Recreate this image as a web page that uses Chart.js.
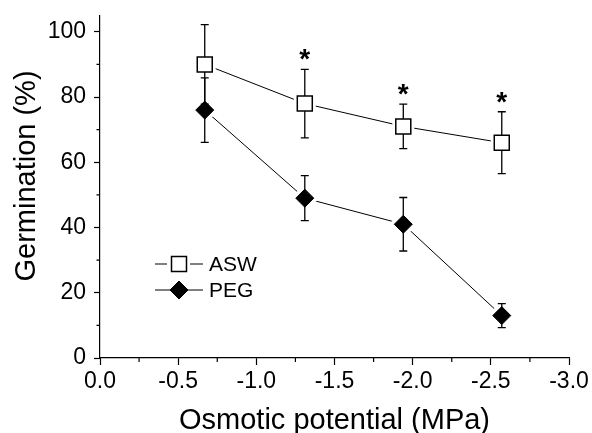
<!DOCTYPE html>
<html><head><meta charset="utf-8">
<script src="https://cdn.jsdelivr.net/npm/chart.js@4.4.0/dist/chart.umd.min.js"></script>
<style>html,body{margin:0;padding:0;background:#fff;} #wrap{width:592px;height:433px;}</style>
</head><body><div id="wrap"><canvas id="c" width="592" height="433"></canvas></div>
<script>
const potentials = [-0.67, -1.31, -1.94, -2.57];
const aswMean = [90, 78, 71, 66];
const aswErr = [12.2, 10.5, 6.8, 9.5];
const pegMean = [76, 49, 41, 13];
const pegErr = [9.9, 6.9, 8.2, 3.7];
const aswSignificant = [false, true, true, true];
const xTicks = [0, -0.5, -1, -1.5, -2, -2.5, -3];
const yTicks = [0, 20, 40, 60, 80, 100];
const xMinorTicks = [-0.25, -0.75, -1.25, -1.75, -2.25, -2.75];
const yMinorTicks = [10, 30, 50, 70, 90];
const seriesNames = ['ASW', 'PEG'];
const xTitle = 'Osmotic potential (MPa)';
const yTitle = 'Germination (%)';

const FONT = "'Liberation Sans', Arial, sans-serif";
function pts(arr) { return potentials.map((x, i) => ({ x: x, y: arr[i] })); }

const series = [
  { name: seriesNames[0], mean: aswMean, err: aswErr, style: 'rect', r: 10.6, halo: 15.5, fill: '#ffffff', bw: 1.5, gapL: 12, gapR: 11 },
  { name: seriesNames[1], mean: pegMean, err: pegErr, style: 'rectRot', r: 9, halo: 14.5, fill: '#000000', bw: 1, gapL: 9, gapR: 9 }
];

const datasets = [];
series.forEach(s => {
  datasets.push({ kind: 'line', data: pts(s.mean), showLine: true, borderColor: '#000', borderWidth: 1, pointRadius: 0, order: 30 });
  datasets.push({ kind: 'halo', data: pts(s.mean), showLine: false, pointStyle: s.style, pointRadius: s.halo, pointBackgroundColor: '#fff', pointBorderColor: '#fff', pointBorderWidth: 0, order: 20 });
  datasets.push({ kind: 'marker', label: s.name, data: pts(s.mean), showLine: false, pointStyle: s.style, pointRadius: s.r, pointBackgroundColor: s.fill, pointBorderColor: '#000', pointBorderWidth: s.bw, order: 10 });
});

function drawMarker(ctx, style, x, y, r, fill, bw) {
  ctx.save();
  ctx.beginPath();
  if (style === 'rect') {
    const h = r * Math.SQRT1_2;
    ctx.rect(x - h, y - h, 2 * h, 2 * h);
  } else {
    ctx.moveTo(x - r, y); ctx.lineTo(x, y - r); ctx.lineTo(x + r, y); ctx.lineTo(x, y + r); ctx.closePath();
  }
  ctx.fillStyle = fill; ctx.fill();
  if (bw > 0) { ctx.lineWidth = bw; ctx.strokeStyle = '#000'; ctx.stroke(); }
  ctx.restore();
}

const decor = {
  id: 'decor',
  beforeDatasetsDraw(chart) { chart.$errDone = false; },
  beforeDatasetDraw(chart, args) {
    const ds = chart.data.datasets[args.index];
    if (ds.kind !== 'marker' || chart.$errDone) return;
    chart.$errDone = true;
    const ctx = chart.ctx, xs = chart.scales.x, ys = chart.scales.y;
    ctx.save();
    ctx.strokeStyle = '#000'; ctx.lineWidth = 1.3;
    series.forEach(s => {
      potentials.forEach((p, i) => {
        const x = xs.getPixelForValue(p);
        const yt = ys.getPixelForValue(s.mean[i] + s.err[i]);
        const yb = ys.getPixelForValue(s.mean[i] - s.err[i]);
        ctx.beginPath();
        ctx.moveTo(x, yt); ctx.lineTo(x, yb);
        ctx.moveTo(x - 4, yt); ctx.lineTo(x + 4, yt);
        ctx.moveTo(x - 4, yb); ctx.lineTo(x + 4, yb);
        ctx.stroke();
      });
    });
    ctx.restore();
  },
  afterDatasetsDraw(chart) {
    const ctx = chart.ctx, xs = chart.scales.x, ys = chart.scales.y;
    ctx.save();
    // significance stars above ASW error bars
    ctx.fillStyle = '#000';
    ctx.font = 'bold 28px ' + FONT;
    ctx.textAlign = 'center'; ctx.textBaseline = 'alphabetic';
    potentials.forEach((p, i) => {
      if (!aswSignificant[i]) return;
      const x = xs.getPixelForValue(p);
      const yt = ys.getPixelForValue(aswMean[i] + aswErr[i]);
      ctx.fillText('*', x, yt - 1);
    });
    // legend
    const lx0 = 155, lx1 = 203, mx = 179, rows = [264, 290];
    series.forEach((s, k) => {
      const y = rows[k];
      ctx.strokeStyle = '#000'; ctx.lineWidth = 1;
      ctx.beginPath();
      ctx.moveTo(lx0, y); ctx.lineTo(mx - s.gapL, y);
      ctx.moveTo(mx + s.gapR, y); ctx.lineTo(lx1, y);
      ctx.stroke();
      drawMarker(ctx, s.style, mx, y, s.r, s.fill, s.bw);
      ctx.fillStyle = '#000';
      ctx.font = '21px ' + FONT;
      ctx.textAlign = 'left'; ctx.textBaseline = 'middle';
      ctx.fillText(s.name, 209, y + 1);
    });
    ctx.restore();
  },
  afterDraw(chart) {
    const ctx = chart.ctx, xs = chart.scales.x, ys = chart.scales.y, a = chart.chartArea;
    ctx.save();
    ctx.strokeStyle = '#000'; ctx.lineWidth = 1.2;
    ctx.beginPath();
    xMinorTicks.forEach(v => { const x = xs.getPixelForValue(v); ctx.moveTo(x, a.bottom); ctx.lineTo(x, a.bottom + 4); });
    yMinorTicks.forEach(v => { const y = ys.getPixelForValue(v); ctx.moveTo(a.left, y); ctx.lineTo(a.left - 3.5, y); });
    ctx.stroke();
    ctx.fillStyle = '#000';
    ctx.font = '29px ' + FONT;
    ctx.textAlign = 'center'; ctx.textBaseline = 'alphabetic';
    ctx.fillText(xTitle, (a.left + a.right) / 2, 429);
    ctx.translate(35, 176);
    ctx.rotate(-Math.PI / 2);
    ctx.fillText(yTitle, 0, 0);
    ctx.restore();
  }
};

new Chart(document.getElementById('c'), {
  type: 'scatter',
  data: { datasets: datasets },
  plugins: [decor],
  options: {
    responsive: false,
    animation: false,
    devicePixelRatio: 1,
    layout: { padding: { left: 0, right: 23, top: 13, bottom: 0 } },
    plugins: { legend: { display: false }, tooltip: { enabled: false } },
    scales: {
      x: {
        type: 'linear', min: -3, max: 0, reverse: true,
        afterFit(scale) { scale.height = 75; scale.paddingLeft = 0; scale.paddingRight = 0; },
        afterBuildTicks(scale) { scale.ticks = xTicks.map(v => ({ value: v })); },
        ticks: { color: '#000', font: { family: FONT, size: 23 }, padding: 3, maxRotation: 0, autoSkip: false,
          callback: v => Number(v).toFixed(1) },
        grid: { display: true, drawOnChartArea: false, drawTicks: true, tickLength: 7, tickColor: '#000', tickWidth: 1.2 },
        border: { display: true, color: '#000', width: 1.2 }
      },
      y: {
        type: 'linear', min: 0, max: 105,
        afterFit(scale) { scale.width = 100; scale.paddingTop = 0; scale.paddingBottom = 0; },
        afterBuildTicks(scale) { scale.ticks = yTicks.map(v => ({ value: v })); },
        ticks: { color: '#000', font: { family: FONT, size: 23 }, padding: 8, autoSkip: false,
          callback: v => String(v) },
        grid: { display: true, drawOnChartArea: false, drawTicks: true, tickLength: 6, tickColor: '#000', tickWidth: 1.2 },
        border: { display: true, color: '#000', width: 1.2 }
      }
    }
  }
});
</script></body></html>
